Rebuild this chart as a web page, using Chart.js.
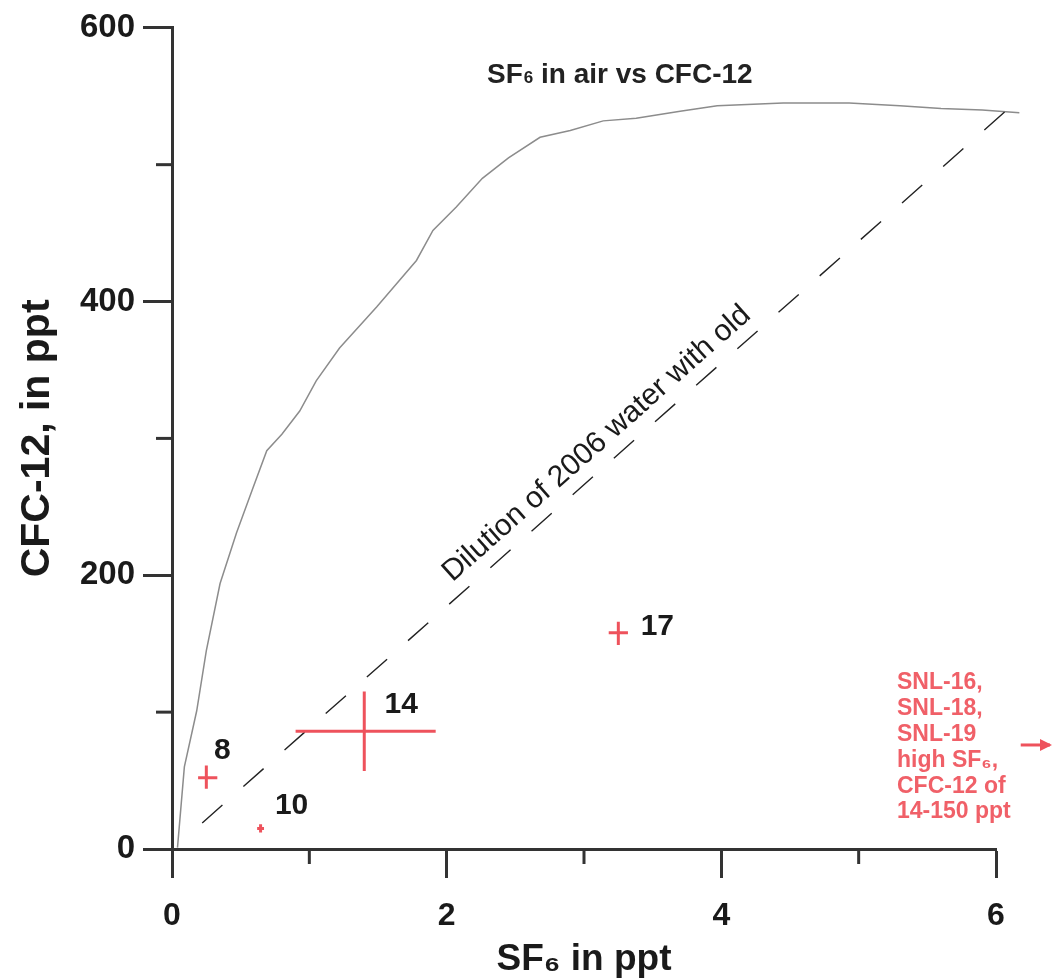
<!DOCTYPE html>
<html>
<head>
<meta charset="utf-8">
<script src="https://cdn.jsdelivr.net/npm/chart.js@4.4.1/dist/chart.umd.min.js"></script>
<style>
  html, body { margin: 0; padding: 0; background: #fff; }
  #wrap { width: 1052px; height: 978px; position: relative; }
</style>
</head>
<body>
<div id="wrap"><canvas id="c" width="1052" height="978"></canvas></div>
<script>
// ---- Data ----
// SF6 in air vs CFC-12 (air curve)
const airSF6 = [0.04, 0.09, 0.18, 0.25, 0.35, 0.47, 0.59, 0.69, 0.80, 0.93, 1.05, 1.22, 1.49, 1.78, 1.90, 2.07, 2.26, 2.45, 2.68, 2.90, 3.14, 3.38, 3.70, 3.97, 4.45, 4.93, 5.30, 5.60, 5.90, 6.17];
const airCFC = [1, 60, 101, 145, 194, 231, 264, 291, 303, 320, 342, 366, 396, 430, 452, 469, 490, 505, 520, 525, 532, 534, 539, 543, 545, 545, 543, 541, 540, 538];
// Dilution of 2006 water with old
const dilSF6 = [0.22, 6.08];
const dilCFC = [19, 540];
// Samples (SF6, CFC-12, error ranges)
const sampleNames = ['8', '10', '14', '17'];
const sampleSF6 = [0.25, 0.645, 1.40, 3.25];
const sampleCFC = [52, 15, 86, 158];
const sampleSF6Lo = [0.19, 0.62, 0.90, 3.18];
const sampleSF6Hi = [0.33, 0.67, 1.92, 3.32];
const sampleCFCLo = [44, 12, 57, 149];
const sampleCFCHi = [61, 18, 115, 166];
// Tick values
const xTickLabels = [0, 2, 4, 6];
const yTickLabels = [0, 200, 400, 600];
const snlNote = ['SNL-16,', 'SNL-18,', 'SNL-19', 'high SF\u2086,', 'CFC-12 of', '14-150 ppt'];
const snlArrowCFC = 76;

// ---- Styles ----
const RED = 'rgb(238,82,92)';
const RED_TXT = 'rgb(240,96,104)';
const AXIS = '#333';
const FONT = '"Liberation Sans", Arial, Helvetica, sans-serif';

const datasets = [];
datasets.push({
  label: 'air',
  data: airSF6.map((x, i) => ({ x, y: airCFC[i] })),
  showLine: true, borderColor: '#8c8c8c', borderWidth: 1.5,
  pointRadius: 0, clip: false, order: 3
});
datasets.push({
  label: 'dilution',
  data: dilSF6.map((x, i) => ({ x, y: dilCFC[i] })),
  showLine: true, borderColor: '#222', borderWidth: 1.4, borderDash: [27, 28],
  pointRadius: 0, clip: false, order: 2
});
sampleNames.forEach((n, i) => {
  datasets.push({
    label: 'h' + n,
    data: [{ x: sampleSF6Lo[i], y: sampleCFC[i] }, { x: sampleSF6Hi[i], y: sampleCFC[i] }],
    showLine: true, borderColor: RED, borderWidth: 3, pointRadius: 0, order: 1
  });
  datasets.push({
    label: 'v' + n,
    data: [{ x: sampleSF6[i], y: sampleCFCLo[i] }, { x: sampleSF6[i], y: sampleCFCHi[i] }],
    showLine: true, borderColor: RED, borderWidth: 3, pointRadius: 0, order: 1
  });
});

// label offsets in px: [right, up]
const labelOffsets = { '8': [16, 27], '10': [31, 23], '14': [37, 27], '17': [39, 6] };

const annot = {
  id: 'annot',
  afterDraw(chart) {
    const ctx = chart.ctx;
    const xs = chart.scales.x, ys = chart.scales.y;
    ctx.save();
    // minor ticks
    ctx.strokeStyle = AXIS; ctx.lineWidth = 3;
    [1, 3, 5].forEach(v => {
      const px = xs.getPixelForValue(v);
      ctx.beginPath(); ctx.moveTo(px, ys.bottom); ctx.lineTo(px, ys.bottom + 15); ctx.stroke();
    });
    [100, 300, 500].forEach(v => {
      const py = ys.getPixelForValue(v);
      ctx.beginPath(); ctx.moveTo(xs.left, py); ctx.lineTo(xs.left - 16, py); ctx.stroke();
    });
    // sample labels
    ctx.fillStyle = '#1a1a1a';
    ctx.font = 'bold 30px ' + FONT;
    ctx.textAlign = 'center'; ctx.textBaseline = 'middle';
    sampleNames.forEach((n, i) => {
      const px = xs.getPixelForValue(sampleSF6[i]);
      const py = ys.getPixelForValue(sampleCFC[i]);
      const o = labelOffsets[n];
      ctx.fillText(n, px + o[0], py - o[1]);
    });
    // title
    ctx.textAlign = 'left'; ctx.textBaseline = 'alphabetic';
    ctx.fillStyle = '#222';
    let tx = 487, ty = 83;
    ctx.font = 'bold 28px ' + FONT;
    ctx.fillText('SF', tx, ty); tx += ctx.measureText('SF').width;
    ctx.font = 'bold 17px ' + FONT;
    ctx.fillText('6', tx + 1, ty); tx += ctx.measureText('6').width + 1;
    ctx.font = 'bold 28px ' + FONT;
    ctx.fillText(' in air vs CFC-12', tx, ty);
    // dilution text along the line
    const x0 = xs.getPixelForValue(dilSF6[0]), y0 = ys.getPixelForValue(dilCFC[0]);
    const x1 = xs.getPixelForValue(dilSF6[1]), y1 = ys.getPixelForValue(dilCFC[1]);
    const ang = Math.atan2(y1 - y0, x1 - x0);
    const tAt = 3.2;
    const mx = xs.getPixelForValue(tAt), my = ys.getPixelForValue(dilCFC[0] + (tAt - dilSF6[0]) * (dilCFC[1] - dilCFC[0]) / (dilSF6[1] - dilSF6[0]));
    ctx.translate(mx, my); ctx.rotate(ang);
    ctx.font = '30px ' + FONT; ctx.textAlign = 'center'; ctx.textBaseline = 'alphabetic';
    ctx.fillStyle = '#1a1a1a';
    ctx.fillText('Dilution of 2006 water with old', 0, -14);
    ctx.setTransform(1, 0, 0, 1, 0, 0);
    // SNL note
    ctx.fillStyle = RED_TXT; ctx.font = 'bold 23px ' + FONT;
    ctx.textAlign = 'left'; ctx.textBaseline = 'middle';
    snlNote.forEach((t, i) => ctx.fillText(t, 897, 683 + i * 25.8));
    // arrow
    const ay = ys.getPixelForValue(snlArrowCFC);
    const ax = xs.getPixelForValue(6.18);
    ctx.strokeStyle = RED; ctx.lineWidth = 3;
    ctx.beginPath(); ctx.moveTo(ax, ay); ctx.lineTo(1050, ay); ctx.stroke();
    ctx.fillStyle = RED;
    ctx.beginPath(); ctx.moveTo(1052, ay); ctx.lineTo(1040, ay - 6); ctx.lineTo(1040, ay + 6); ctx.closePath(); ctx.fill();
    ctx.restore();
  }
};

new Chart(document.getElementById('c'), {
  type: 'scatter',
  data: { datasets },
  options: {
    responsive: false, animation: false, devicePixelRatio: 1,
    layout: { padding: { top: 26, right: 56, left: 0, bottom: 0 } },
    plugins: { legend: { display: false }, tooltip: { enabled: false }, title: { display: false } },
    scales: {
      x: {
        type: 'linear', min: 0, max: 6,
        afterFit(s) { s.height = 129; },
        border: { display: true, color: AXIS, width: 3 },
        grid: {
          display: true, drawOnChartArea: false, drawTicks: true, tickLength: 29, tickWidth: 3,
          tickColor: c => (c.tick && xTickLabels.includes(c.tick.value)) ? AXIS : 'rgba(0,0,0,0)'
        },
        ticks: {
          stepSize: 1, padding: 19, color: '#1a1a1a', maxRotation: 0,
          font: { family: FONT, size: 32, weight: 'bold' },
          callback: v => xTickLabels.includes(v) ? String(v) : ''
        },
        title: {
          display: true, text: 'SF\u2086 in ppt', color: '#1a1a1a',
          font: { family: FONT, size: 37, weight: 'bold' }, padding: { top: 0, bottom: -4 }
        }
      },
      y: {
        type: 'linear', min: 0, max: 600,
        afterFit(s) { s.width = 172; },
        border: { display: true, color: AXIS, width: 3 },
        grid: {
          display: true, drawOnChartArea: false, drawTicks: true, tickLength: 29, tickWidth: 3,
          tickColor: c => (c.tick && yTickLabels.includes(c.tick.value)) ? AXIS : 'rgba(0,0,0,0)'
        },
        ticks: {
          stepSize: 100, padding: 8, color: '#1a1a1a',
          font: { family: FONT, size: 33, weight: 'bold' },
          callback: v => yTickLabels.includes(v) ? String(v) : ''
        },
        title: {
          display: true, text: 'CFC-12, in ppt', color: '#1a1a1a',
          font: { family: FONT, size: 41, weight: 'bold' }, padding: { top: 13, bottom: 0 }
        }
      }
    }
  },
  plugins: [annot]
});
</script>
</body>
</html>
